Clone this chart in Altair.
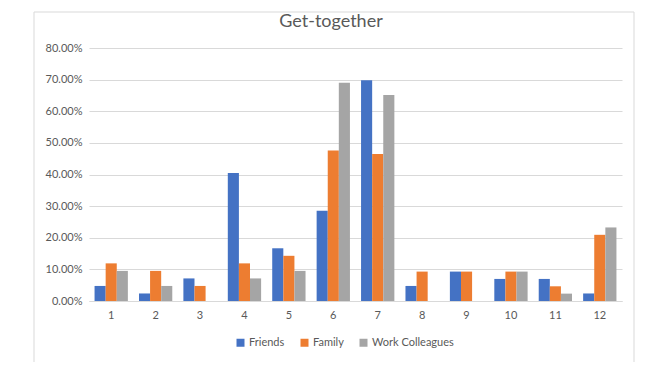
import altair as alt
import pandas as pd

title_text = "Get-together"
categories = [str(i) for i in range(1, 13)]
series_names = ["Friends", "Family", "Work Colleagues"]
friends = [0.0476, 0.0238, 0.0714, 0.4048, 0.1667, 0.2857, 0.6977, 0.0476, 0.0930, 0.0698, 0.0698, 0.0238]
family = [0.1190, 0.0952, 0.0476, 0.1190, 0.1429, 0.4762, 0.4651, 0.0930, 0.0930, 0.0930, 0.0465, 0.2093]
colleagues = [0.0952, 0.0476, 0.0, 0.0714, 0.0952, 0.6905, 0.6512, 0.0, 0.0, 0.0930, 0.0233, 0.2326]
colors = ["#4472C4", "#ED7D31", "#A5A5A5"]
y_ticks = [0, 0.1, 0.2, 0.3, 0.4, 0.5, 0.6, 0.7, 0.8]

rows = []
for s, vals in zip(series_names, [friends, family, colleagues]):
    for c, v in zip(categories, vals):
        rows.append({"cat": c, "series": s, "value": v})
df = pd.DataFrame(rows)

FONT = "Lato"
TXT = "#595959"
GRID = "#D9D9D9"

bars = alt.Chart(df).mark_bar().encode(
    x=alt.X("cat:N", sort=categories, title=None,
            scale=alt.Scale(paddingInner=0.25, paddingOuter=0.125),
            axis=alt.Axis(labelAngle=0, ticks=False, domainColor=GRID, labelPadding=8,
                          labelColor=TXT, labelFontSize=11, labelFont=FONT)),
    xOffset=alt.XOffset("series:N", sort=series_names, scale=alt.Scale(paddingInner=0, paddingOuter=0)),
    y=alt.Y("value:Q", title=None, scale=alt.Scale(domain=[0, 0.8], nice=False),
            axis=alt.Axis(format=".2%", values=y_ticks, domain=False, ticks=False, gridColor=GRID,
                          labelPadding=7, labelColor=TXT, labelFontSize=11, labelFont=FONT)),
    color=alt.Color("series:N", sort=series_names,
                    scale=alt.Scale(domain=series_names, range=colors),
                    legend=alt.Legend(title=None, orient="none", direction="horizontal",
                                      legendX=146, legendY=289, symbolType="square", symbolSize=64,
                                      symbolStrokeWidth=0, labelFont=FONT, labelFontSize=11,
                                      labelColor=TXT, columnPadding=14, labelOffset=3)),
)

frame_df = pd.DataFrame({"a": [0]})
left = alt.Chart(frame_df).mark_rule(color=GRID).encode(x=alt.value(-55), y=alt.value(-36), y2=alt.value(314))
right = alt.Chart(frame_df).mark_rule(color=GRID).encode(x=alt.value(545), y=alt.value(-36), y2=alt.value(314))
top = alt.Chart(frame_df).mark_rule(color=GRID).encode(x=alt.value(-55), x2=alt.value(545), y=alt.value(-36))

title = alt.Chart(pd.DataFrame({"t": [title_text]})).mark_text(
    font=FONT, fontSize=18, color=TXT, align="center", baseline="alphabetic"
).encode(text="t:N", x=alt.value(242), y=alt.value(-21))

chart = alt.layer(left, right, top, title, bars).properties(
    width=533, height=253,
    padding={"left": 81, "top": 40, "right": 20, "bottom": 66},
    autosize=alt.AutoSizeParams(type="none"),
).configure_view(stroke=None)

chart.save("out.html", embed_options={"renderer": "svg", "actions": False})
